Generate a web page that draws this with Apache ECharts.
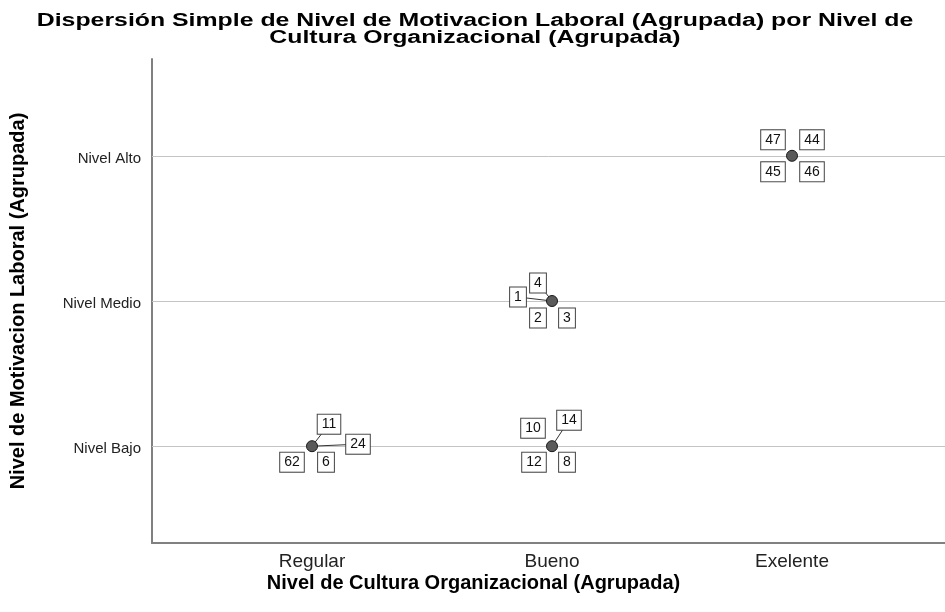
<!DOCTYPE html>
<html>
<head>
<meta charset="utf-8">
<script src="https://cdn.jsdelivr.net/npm/echarts@6/dist/echarts.min.js"></script>
<style>
  html, body { margin: 0; padding: 0; background: #fff; }
  #main { width: 945px; height: 612px; }
</style>
</head>
<body>
<div id="main"></div>
<script>
// categorias de los ejes
var cultura = ["Regular", "Bueno", "Exelente"];
var motivacion = ["Nivel Bajo", "Nivel Medio", "Nivel Alto"];

// puntos (indice cultura, indice motivacion) y casos etiquetados en cada punto
var puntoX = [1, 2, 2, 3];
var puntoY = [1, 2, 1, 3];
var casos = [
  [11, 24, 62, 6],
  [1, 4, 2, 3],
  [10, 14, 12, 8],
  [47, 44, 45, 46]
];

// desplazamiento de cada etiqueta respecto al punto (px) y si lleva linea
var etiquetaPos = {
  11: [17, -22, true], 24: [46, -2, true], 62: [-20, 16, false], 6: [14, 16, false],
  1: [-34, -4, true], 4: [-14, -18, true], 2: [-14, 17, false], 3: [15, 17, false],
  10: [-19, -18, false], 14: [17, -26, true], 12: [-18, 16, false], 8: [15, 16, false],
  47: [-19, -16, false], 44: [20, -16, false], 45: [-19, 16, false], 46: [20, 16, false]
};

var titulo = "Dispersión Simple de Nivel de Motivacion Laboral (Agrupada) por Nivel de\nCultura Organizacional (Agrupada)";

var fuente = '"Liberation Sans", Arial, sans-serif';
var chartDom = document.getElementById("main");
var myChart = echarts.init(chartDom);
var option;

var datos = puntoX.map(function (x, i) {
  return [x, puntoY[i]];
});

function esEntero(v) {
  return Math.abs(v - Math.round(v)) < 1e-6;
}

option = {
  animation: false,
  backgroundColor: "#fff",
  graphic: [
    {
      // titulo ensanchado como en el original
      type: "text",
      x: 475,
      y: 13,
      scaleX: 1.38,
      silent: true,
      style: {
        text: titulo,
        align: "center",
        verticalAlign: "top",
        font: "bold 18px " + fuente,
        lineHeight: 17,
        fill: "#000"
      }
    }
  ],
  grid: {
    left: 152,
    top: 59,
    right: 0,
    height: 484
  },
  xAxis: {
    type: "value",
    min: 1 / 3,
    max: 3.6375,
    interval: 1 / 3,
    name: "Nivel de Cultura Organizacional (Agrupada)",
    nameLocation: "middle",
    nameGap: 30,
    nameMoveOverlap: false,
    nameTextStyle: {
      fontFamily: fuente,
      fontSize: 20,
      fontWeight: "bold",
      color: "#000",
      align: "center",
      padding: [0, 150, 0, 0]
    },
    axisLine: { lineStyle: { color: "#808080", width: 2 } },
    axisTick: { show: false },
    splitLine: { show: false },
    axisLabel: {
      margin: 9,
      fontFamily: fuente,
      fontSize: 19,
      color: "#222",
      showMinLabel: true,
      showMaxLabel: false,
      formatter: function (v) {
        return esEntero(v) ? (cultura[Math.round(v) - 1] || "") : "";
      }
    }
  },
  yAxis: {
    type: "value",
    min: 1 / 3,
    max: 11 / 3,
    interval: 1 / 3,
    name: "Nivel de Motivacion Laboral (Agrupada)",
    nameLocation: "middle",
    nameGap: 124,
    nameMoveOverlap: false,
    nameTextStyle: {
      fontFamily: fuente,
      fontSize: 20,
      fontWeight: "bold",
      color: "#000"
    },
    axisLine: { show: true, lineStyle: { color: "#808080", width: 2 } },
    axisTick: { show: false },
    splitLine: { show: false },
    axisLabel: {
      margin: 11,
      fontFamily: fuente,
      fontSize: 15,
      color: "#222",
      verticalAlign: "top",
      lineHeight: 6,
      formatter: function (v) {
        return esEntero(v) ? (motivacion[Math.round(v) - 1] || "") : "";
      }
    }
  },
  series: [
    {
      // lineas de referencia en cada nivel
      type: "scatter",
      data: [],
      z: 1,
      silent: true,
      markLine: {
        silent: true,
        symbol: "none",
        label: { show: false },
        lineStyle: { color: "#c4c4c4", type: "solid", width: 1 },
        data: motivacion.map(function (m, i) {
          return { yAxis: i + 1 };
        })
      }
    },
    {
      type: "custom",
      z: 5,
      data: datos,
      encode: { x: 0, y: 1 },
      renderItem: function (params, api) {
        var c = api.coord([api.value(0), api.value(1)]);
        var ids = casos[params.dataIndex];
        var hijos = [];
        ids.forEach(function (id) {
          var o = etiquetaPos[id];
          if (o[2]) {
            hijos.push({
              type: "line",
              shape: { x1: c[0], y1: c[1], x2: c[0] + o[0], y2: c[1] + o[1] },
              style: { stroke: "#333", lineWidth: 1 }
            });
          }
        });
        ids.forEach(function (id) {
          var o = etiquetaPos[id];
          hijos.push({
            type: "text",
            x: c[0] + o[0],
            y: c[1] + o[1],
            style: {
              text: String(id),
              align: "center",
              verticalAlign: "middle",
              font: "14px " + fuente,
              fill: "#111",
              backgroundColor: "#fff",
              borderColor: "#444",
              borderWidth: 1,
              padding: [3, 4, 2, 4]
            }
          });
        });
        hijos.push({
          type: "circle",
          shape: { cx: c[0], cy: c[1], r: 5.5 },
          style: { fill: "#5a5a5a", stroke: "#1a1a1a", lineWidth: 1 }
        });
        return { type: "group", children: hijos };
      }
    }
  ]
};

option && myChart.setOption(option);
</script>
</body>
</html>
